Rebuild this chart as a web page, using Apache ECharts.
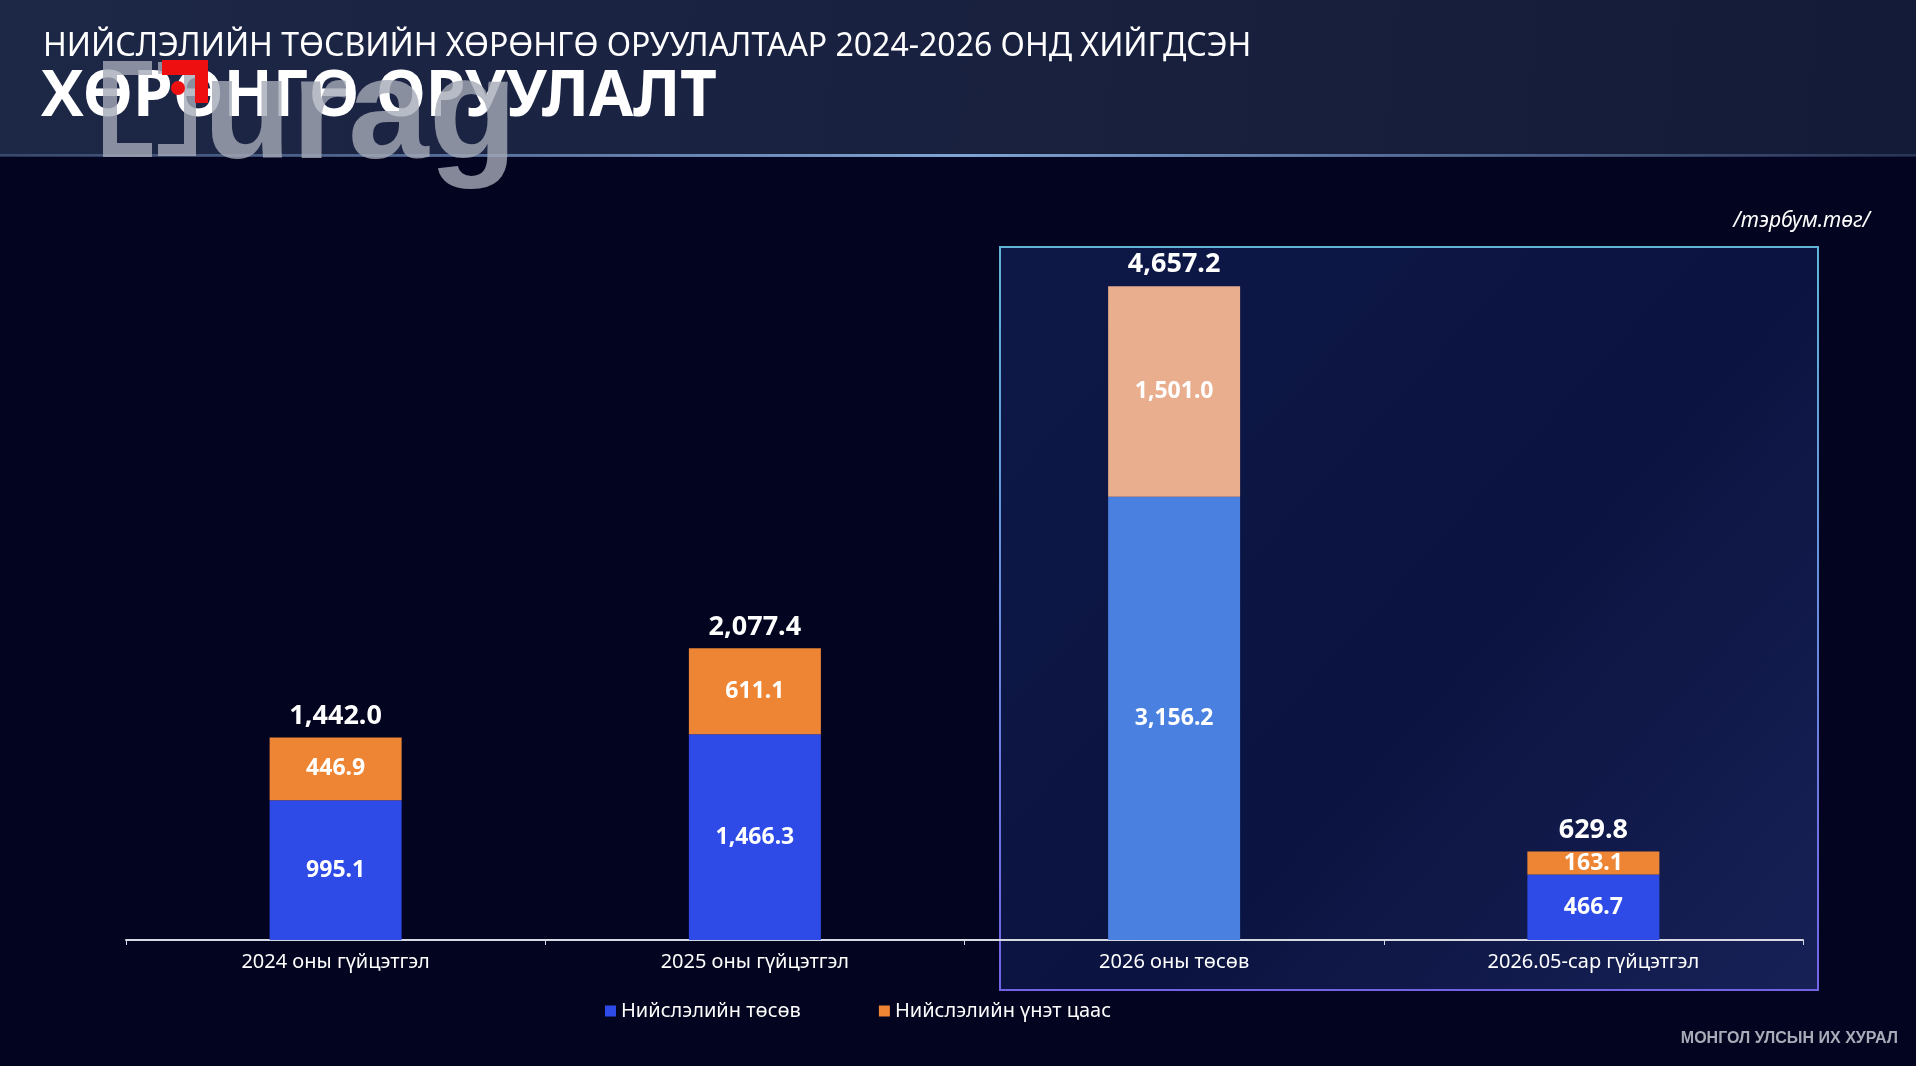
<!DOCTYPE html>
<html>
<head>
<meta charset="utf-8">
<script src="https://cdn.jsdelivr.net/npm/echarts@6/dist/echarts.min.js"></script>
<style>
  html, body { margin: 0; padding: 0; background: #03041f; }
  #chart { width: 1916px; height: 1066px; }
</style>
</head>
<body>
<div id="chart"></div>
<script>
const categories = ['2024 оны гүйцэтгэл', '2025 оны гүйцэтгэл', '2026 оны төсөв', '2026.05-сар гүйцэтгэл'];
const budget = [995.1, 1466.3, 3156.2, 466.7];
const bonds = [446.9, 611.1, 1501.0, 163.1];
const totals = [1442.0, 2077.4, 4657.2, 629.8];
const seriesNames = ['Нийслэлийн төсөв', 'Нийслэлийн үнэт цаас'];
const highlightIndex = 2; // 2026 budget bar drawn in lighter colours

const fmt = (v) => v.toLocaleString('en-US', { minimumFractionDigits: 1, maximumFractionDigits: 1 });
const FONT = '"Noto Sans", sans-serif';

let chart = echarts.init(document.getElementById('chart'));

function colored(values, base, light) {
    return values.map((v, i) => ({
        value: v,
        itemStyle: { color: i == highlightIndex ? light : base }
    }));
}

let innerLabel = {
    show: true,
    position: 'inside',
    color: '#ffffff',
    fontFamily: FONT,
    fontWeight: 'bold',
    fontSize: 23,
    formatter: (p) => fmt(p.value)
};

const wmColor = 'rgba(165,170,182,0.8)';

chart.setOption({
    backgroundColor: '#03041f',
    graphic: [
        // header band
        {
            type: 'rect', z: -10,
            shape: { x: 0, y: 0, width: 1916, height: 156 },
            style: {
                fill: new echarts.graphic.LinearGradient(0, 0, 1, 1, [
                    { offset: 0, color: '#1d2746' },
                    { offset: 1, color: '#141b38' }
                ])
            }
        },
        {
            type: 'rect', z: -9,
            shape: { x: 0, y: 154, width: 1916, height: 3 },
            style: {
                fill: new echarts.graphic.LinearGradient(0, 0, 1, 0, [
                    { offset: 0, color: 'rgba(120,150,200,0.3)' },
                    { offset: 0.5, color: 'rgba(140,180,230,0.9)' },
                    { offset: 1, color: 'rgba(120,150,200,0.2)' }
                ])
            }
        },
        // titles
        {
            type: 'text', z: 5, left: 43, top: 31,
            style: { text: 'НИЙСЛЭЛИЙН ТӨСВИЙН ХӨРӨНГӨ ОРУУЛАЛТААР 2024-2026 ОНД ХИЙГДСЭН', fill: '#ffffff', font: '32px ' + FONT }
        },
        {
            type: 'text', z: 5, left: 41, top: 66,
            style: { text: 'ХӨРӨНГӨ ОРУУЛАЛТ', fill: '#ffffff', font: 'bold 64px ' + FONT, shadowColor: 'rgba(0,0,0,0.6)', shadowOffsetX: 2, shadowOffsetY: 2, shadowBlur: 2 }
        },
        // watermark logo (over the title)
        {
            type: 'polyline', z: 10,
            shape: { points: [[152, 68], [110, 68], [110, 150], [152, 150]] },
            style: { stroke: wmColor, lineWidth: 14, fill: null }
        },
        {
            type: 'polyline', z: 10,
            shape: { points: [[158, 68], [190, 68], [190, 150], [158, 150]] },
            style: { stroke: wmColor, lineWidth: 12, fill: null }
        },
        {
            type: 'text', z: 10, left: 203, top: 46,
            style: { text: 'urag', fill: wmColor, font: 'bold 145px "Liberation Sans Narrow", sans-serif' }
        },
        {
            type: 'polygon', z: 11,
            shape: { points: [[162, 60], [208, 60], [208, 103], [195, 103], [195, 75], [162, 75]] },
            style: { fill: '#ee1010' }
        },
        {
            type: 'circle', z: 11,
            shape: { cx: 178, cy: 88, r: 7 },
            style: { fill: '#ee1010' }
        },
        // highlight box
        {
            type: 'rect', z: -5,
            shape: { x: 1000, y: 247, width: 818, height: 743 },
            style: {
                fill: new echarts.graphic.LinearGradient(0, 0, 1, 1, [
                    { offset: 0, color: '#0e1847' },
                    { offset: 0.55, color: '#0b1440' },
                    { offset: 1, color: '#172156' }
                ]),
                stroke: new echarts.graphic.LinearGradient(0, 0, 0, 1, [
                    { offset: 0, color: '#5fb4d6' },
                    { offset: 1, color: '#7263e6' }
                ]),
                lineWidth: 2
            }
        },
        // unit
        {
            type: 'text', z: 5, right: 46, top: 211,
            style: { text: '/тэрбум.төг/', fill: '#ffffff', font: 'italic 21px ' + FONT }
        },
        // footer
        {
            type: 'text', z: 5, right: 18, top: 1031,
            style: { text: 'МОНГОЛ УЛСЫН ИХ ХУРАЛ', fill: '#a8acb8', font: 'bold 16px "Liberation Sans Narrow", sans-serif' }
        }
    ],
    grid: { left: 126, right: 113, top: 238, bottom: 126 },
    legend: {
        data: seriesNames,
        left: 600,
        top: 996,
        itemWidth: 11,
        itemHeight: 11,
        itemGap: 78,
        icon: 'rect',
        textStyle: { color: '#ffffff', fontSize: 20, fontFamily: FONT }
    },
    xAxis: {
        type: 'category',
        data: categories,
        axisLine: { lineStyle: { color: '#d6d9e2', width: 2 } },
        axisTick: { show: true, length: 5, lineStyle: { color: '#d6d9e2' } },
        axisLabel: { color: '#ffffff', fontSize: 20, fontFamily: FONT, margin: 12 }
    },
    yAxis: {
        type: 'value',
        min: 0,
        max: 5000,
        show: false,
        splitLine: { show: false }
    },
    series: [
        {
            name: seriesNames[0],
            type: 'bar',
            stack: 'total',
            barWidth: 132,
            itemStyle: { color: '#2e4be8' },
            data: colored(budget, '#2e4be8', '#4a80e0'),
            label: innerLabel
        },
        {
            name: seriesNames[1],
            type: 'bar',
            stack: 'total',
            barWidth: 132,
            itemStyle: { color: '#ee8535' },
            data: colored(bonds, '#ee8535', '#e8ae8e'),
            label: innerLabel
        },
        {
            name: 'total',
            type: 'bar',
            barWidth: 132,
            barGap: '-100%',
            z: 0,
            silent: true,
            itemStyle: { color: 'transparent' },
            data: totals,
            label: {
                show: true,
                position: 'top',
                distance: 8,
                color: '#ffffff',
                fontFamily: FONT,
                fontWeight: 'bold',
                fontSize: 27,
                formatter: (p) => fmt(p.value)
            }
        }
    ]
});
</script>
</body>
</html>
